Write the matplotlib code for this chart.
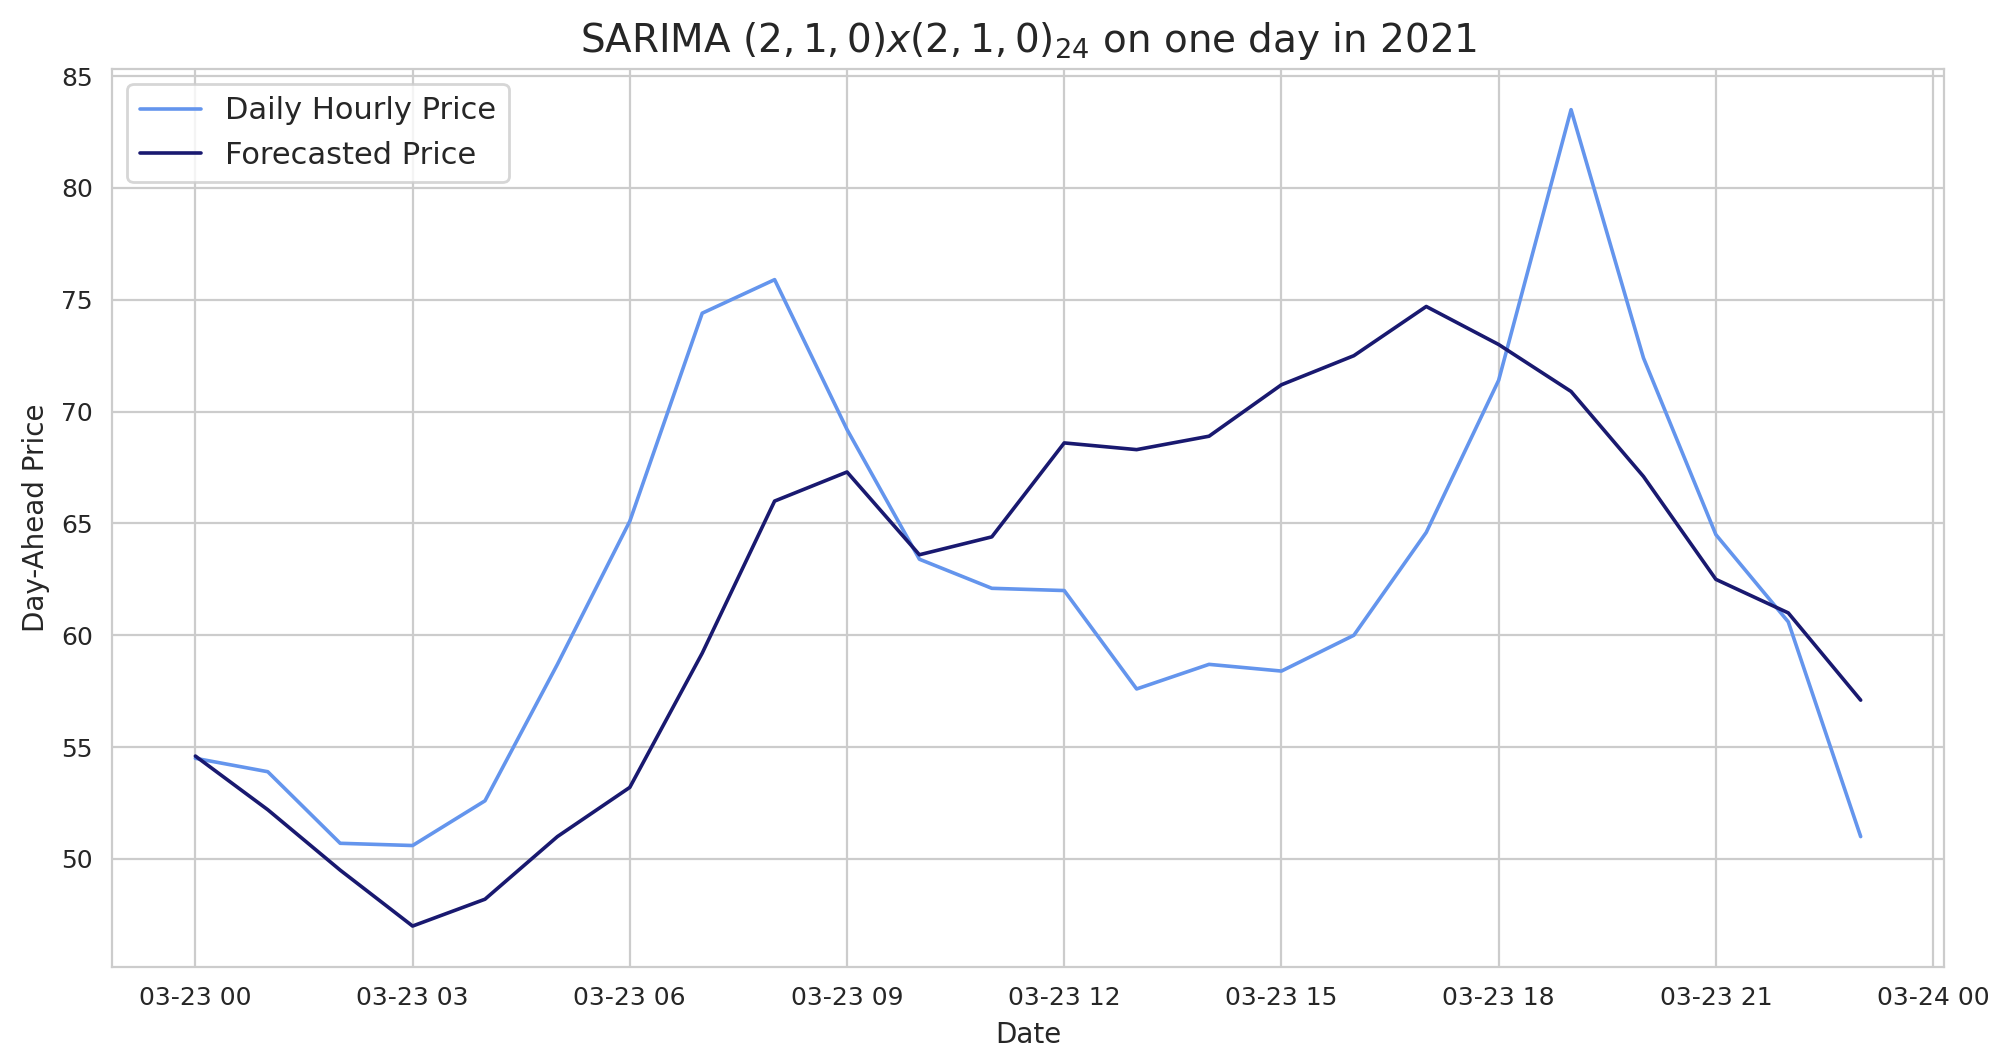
import numpy as np
import pandas as pd
import matplotlib
matplotlib.use("Agg")
import matplotlib.pyplot as plt
import matplotlib.dates as mdates
import seaborn as sns

hours = pd.date_range("2021-03-23 00:00", periods=24, freq="h")
actual = [54.5, 53.9, 50.7, 50.6, 52.6, 58.7, 65.1, 74.4, 75.9, 69.2, 63.4, 62.1,
          62.0, 57.6, 58.7, 58.4, 60.0, 64.6, 71.4, 83.5, 72.4, 64.5, 60.6, 51.0]
forecast = [54.6, 52.2, 49.5, 47.0, 48.2, 51.0, 53.2, 59.2, 66.0, 67.3, 63.6, 64.4,
            68.6, 68.3, 68.9, 71.2, 72.5, 74.7, 73.0, 70.9, 67.1, 62.5, 61.0, 57.1]


def main():
    sns.set_style("whitegrid")
    fig, ax = plt.subplots(figsize=(10.01, 5.295), dpi=200)
    ax.plot(hours, actual, color="cornflowerblue", lw=1.3, label="Daily Hourly Price")
    ax.plot(hours, forecast, color="midnightblue", lw=1.3, label="Forecasted Price")
    ax.xaxis.set_major_locator(mdates.HourLocator(byhour=range(0, 24, 3)))
    ax.xaxis.set_major_formatter(mdates.DateFormatter("%m-%d %H"))
    ax.set_yticks([50, 55, 60, 65, 70, 75, 80, 85])
    ax.tick_params(labelsize=9)
    ax.set_xlabel("Date", fontsize=10)
    ax.set_ylabel("Day-Ahead Price", fontsize=10)
    ax.set_title(r"SARIMA $(2,1,0)x(2,1,0)_{24}$ on one day in 2021", fontsize=14)
    ax.legend(loc="upper left", fontsize=11)
    fig.subplots_adjust(left=0.056, right=0.971, top=0.935, bottom=0.087)
    fig.savefig("out.png")


if __name__ == "__main__":
    main()
